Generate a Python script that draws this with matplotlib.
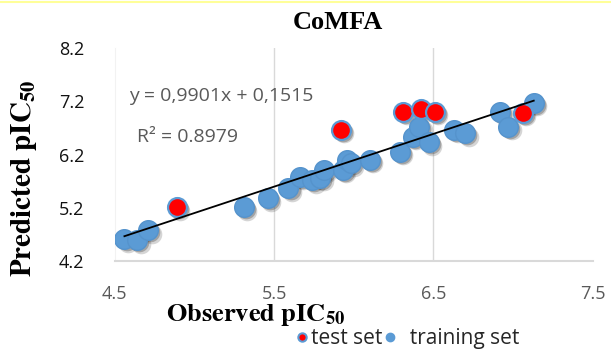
import numpy as np
import matplotlib
matplotlib.use("Agg")
import matplotlib.pyplot as plt
from matplotlib.lines import Line2D
from matplotlib.transforms import offset_copy

plt.rcParams['font.family'] = ['Open Sans', 'DejaVu Sans']
plt.rcParams['mathtext.fontset'] = 'stix'

# training set (observed, predicted)
train_obs = [4.56, 4.64, 4.71, 5.31, 5.46, 5.59, 5.66, 5.74, 5.79, 5.81, 5.93,
             5.96, 5.98, 6.10, 6.29, 6.37, 6.41, 6.47, 6.63, 6.70, 6.92, 6.97, 7.13]
train_pred = [4.61, 4.59, 4.78, 5.21, 5.38, 5.57, 5.78, 5.72, 5.76, 5.91, 5.91,
              6.10, 6.04, 6.10, 6.25, 6.53, 6.72, 6.43, 6.66, 6.60, 7.00, 6.72, 7.17]

# test set
test_obs = [4.89, 5.92, 6.31, 6.42, 6.51, 7.06]
test_pred = [5.21, 6.66, 7.00, 7.05, 7.00, 6.98]

slope, intercept = 0.9901, 0.1515
r2 = 0.8979

xticks = [4.5, 5.5, 6.5, 7.5]
yticks = [4.2, 5.2, 6.2, 7.2, 8.2]

blue = '#5B9BD5'
red = '#FF0000'

fig = plt.figure(figsize=(6.11, 3.49), dpi=100)
ax = fig.add_axes([0.188, 0.252, 0.782, 0.6105])

# drop shadows
for dx, dy, a in [(2.5, -2.5, 0.2), (1.5, -1.5, 0.3)]:
    tr = offset_copy(ax.transData, fig=fig, x=dx, y=dy, units='points')
    ax.scatter(train_obs + test_obs, train_pred + test_pred, s=200, color='#303030',
               alpha=a, linewidths=0, transform=tr, zorder=2)

ax.scatter(train_obs, train_pred, s=200, color=blue, edgecolors='#5593CC',
           linewidths=1, zorder=3)
ax.scatter(test_obs, test_pred, s=185, color=red, edgecolors=blue,
           linewidths=1.6, zorder=4)

xl = np.array([min(train_obs), max(train_obs)])
ax.plot(xl, slope * xl + intercept, color='black', lw=1.3, zorder=5)

ax.set_xlim(4.5, 7.5)
ax.set_ylim(4.2, 8.2)
ax.set_xticks(xticks)
ax.set_yticks(yticks)
ax.set_xticklabels([f'{t:.1f}' for t in xticks], color='#595959', fontsize=13)
ax.set_yticklabels([f'{t:.1f}' for t in yticks], color='#111111', fontsize=13)
ax.tick_params(axis='both', length=0)
ax.tick_params(axis='x', pad=17)
ax.tick_params(axis='y', pad=22)

for x in [5.5, 6.5]:
    ax.axvline(x, color='#D9D9D9', lw=1, zorder=0)
for s in ['top', 'right']:
    ax.spines[s].set_visible(False)
ax.spines['left'].set_color('#F2F2F2')
ax.spines['bottom'].set_color('#D9D9D9')
ax.spines['bottom'].set_linewidth(1.5)

ax.text(4.59, 7.3, f'y = {slope:.4f}x + {intercept:.4f}'.replace('.', ','),
        color='#595959', fontsize=14, va='center')
ax.text(4.64, 6.52, f'R\u00b2 = {r2:.4f}', color='#595959', fontsize=14, va='center')

fig.text(0.553, 0.935, 'CoMFA', family='Liberation Serif', weight='bold',
         fontsize=19, ha='center', va='center')
fig.text(0.418, 0.098, r'$\mathbf{Observed\ pIC_{50}}$', fontsize=19,
         ha='center', va='center')
fig.text(0.04, 0.49, r'$\mathbf{Predicted\ pIC_{50}}$', fontsize=21,
         ha='center', va='center', rotation=90)

handles = [
    Line2D([], [], marker='o', ls='none', markersize=6, markerfacecolor=red,
           markeredgecolor=blue, markeredgewidth=1.5, label='test set'),
    Line2D([], [], marker='o', ls='none', markersize=6, markerfacecolor=blue,
           markeredgecolor=blue, label='  training set'),
]
fig.legend(handles=handles, loc='center', bbox_to_anchor=(0.667, 0.03), ncol=2,
           frameon=False, fontsize=15, handlelength=0.6, handletextpad=0.1,
           columnspacing=0.1, labelcolor='#262626', borderpad=0)

fig.add_artist(Line2D([0, 1], [0.995, 0.995], color='#FFFF99', lw=1.5))

fig.savefig('out.png', dpi=100)
